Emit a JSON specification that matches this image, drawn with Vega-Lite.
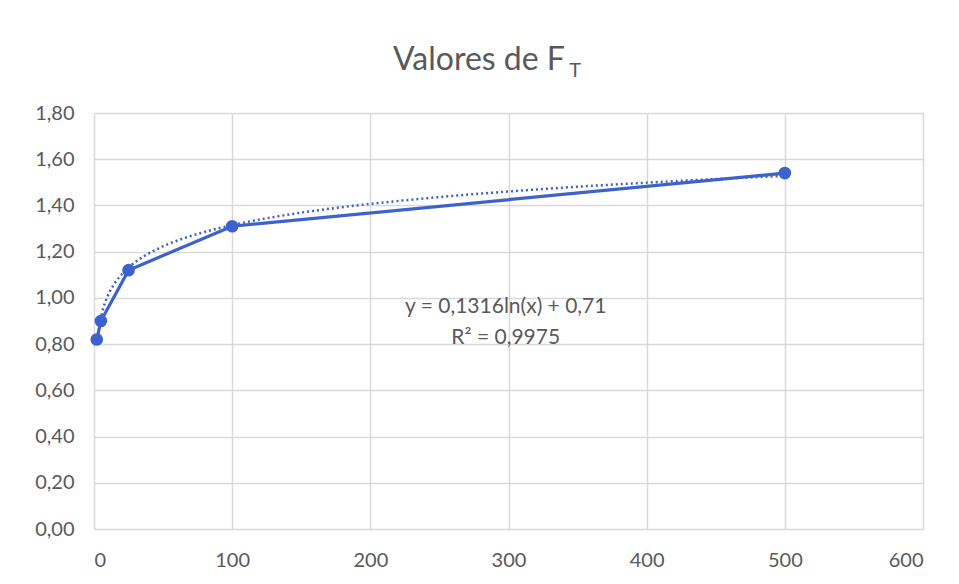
{
  "$schema": "https://vega.github.io/schema/vega-lite/v6.json",
  "width": 829,
  "height": 416,
  "autosize": {"type": "none"},
  "padding": {"left": 94, "top": 113, "right": 36, "bottom": 55},
  "background": "white",
  "datasets": {
    "pts": [
      {"x": 2, "y": 0.82},
      {"x": 5, "y": 0.90},
      {"x": 25, "y": 1.12},
      {"x": 100, "y": 1.31},
      {"x": 500, "y": 1.54}
    ],
    "one": [{"k": 1}]
  },
  "config": {
    "view": {"stroke": null},
    "text": {"font": "Lato", "fontWeight": "normal", "fill": "#595959"},
    "axis": {
      "domain": false, "ticks": false, "grid": true, "gridColor": "#d9d9d9", "gridWidth": 1.5,
      "labelFont": "Lato", "labelFontSize": 20, "labelColor": "#595959", "labelPadding": 20, "title": null
    }
  },
  "layer": [
    {
      "data": {"name": "pts"},
      "mark": {"type": "line", "color": "#3D62CB", "strokeWidth": 3.2},
      "encoding": {
        "x": {"field": "x", "type": "quantitative", "scale": {"domain": [0, 600], "nice": false}, "axis": {"values": [0, 100, 200, 300, 400, 500, 600], "labelPadding": 21}},
        "y": {"field": "y", "type": "quantitative", "scale": {"domain": [0, 1.8], "nice": false}, "axis": {"values": [0, 0.2, 0.4, 0.6, 0.8, 1.0, 1.2, 1.4, 1.6, 1.8], "labelPadding": 20, "labelExpr": "replace(format(datum.value, '.2f'), '.', ',')"}}
      }
    },
    {
      "data": {"name": "pts"},
      "mark": {"type": "point", "filled": true, "shape": "circle", "size": 160, "color": "#3D62CB", "opacity": 1},
      "encoding": {
        "x": {"field": "x", "type": "quantitative"},
        "y": {"field": "y", "type": "quantitative"}
      }
    },
    {
      "data": {"name": "pts"},
      "transform": [{"regression": "y", "on": "x", "method": "log"}],
      "mark": {"type": "line", "color": "#3D62CB", "strokeWidth": 2.5, "strokeDash": [2, 3]},
      "encoding": {
        "x": {"field": "x", "type": "quantitative"},
        "y": {"field": "y", "type": "quantitative"}
      }
    },
    {
      "data": {"name": "one"},
      "mark": {"type": "text", "text": "Valores de F", "fontSize": 32, "align": "left", "baseline": "alphabetic"},
      "encoding": {"x": {"datum": 216.4, "type": "quantitative"}, "y": {"datum": 1.986, "type": "quantitative"}}
    },
    {
      "data": {"name": "one"},
      "mark": {"type": "text", "text": "T", "fontSize": 20, "align": "left", "baseline": "alphabetic"},
      "encoding": {"x": {"datum": 344, "type": "quantitative"}, "y": {"datum": 1.956, "type": "quantitative"}}
    },
    {
      "data": {"name": "one"},
      "mark": {"type": "text", "text": "y = 0,1316ln(x) + 0,71", "fontSize": 21, "align": "center", "baseline": "alphabetic"},
      "encoding": {"x": {"datum": 298, "type": "quantitative"}, "y": {"datum": 0.935, "type": "quantitative"}}
    },
    {
      "data": {"name": "one"},
      "mark": {"type": "text", "text": "R² = 0,9975", "fontSize": 21, "align": "center", "baseline": "alphabetic"},
      "encoding": {"x": {"datum": 298, "type": "quantitative"}, "y": {"datum": 0.80, "type": "quantitative"}}
    }
  ]
}
